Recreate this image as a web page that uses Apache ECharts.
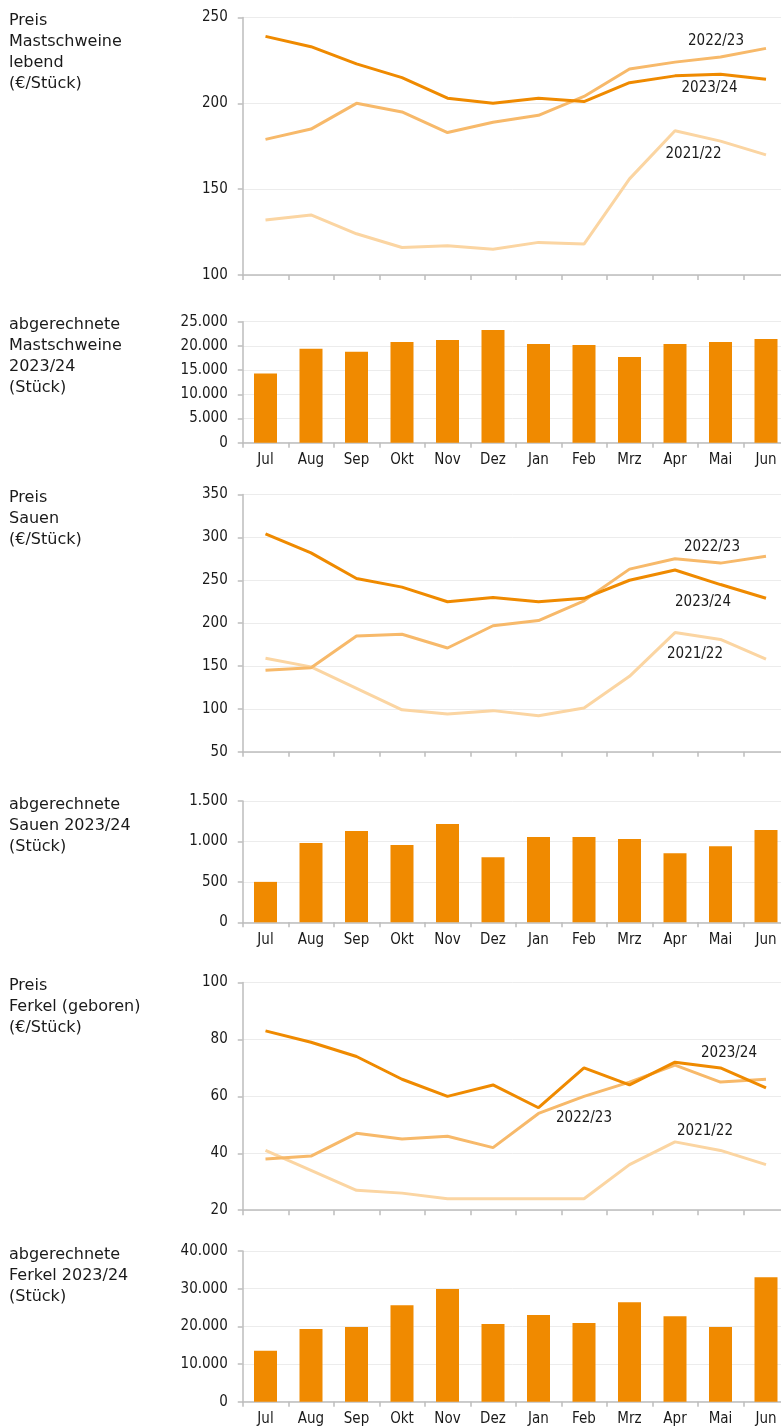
<!DOCTYPE html>
<html>
<head>
<meta charset="utf-8">
<script src="https://cdn.jsdelivr.net/npm/echarts@6/dist/echarts.min.js"></script>
<style>
  html, body { margin: 0; padding: 0; background: #ffffff; }
  #chart { width: 781px; height: 1428px; }
</style>
</head>
<body>
<div id="chart"></div>
<script>
// Months of the marketing year (July to June)
const months = ['Jul', 'Aug', 'Sep', 'Okt', 'Nov', 'Dez', 'Jan', 'Feb', 'Mrz', 'Apr', 'Mai', 'Jun'];
const seasons = ['2021/22', '2022/23', '2023/24'];

// Mastschweine lebend, €/Stück
const mastPrice2122 = [132, 135, 124, 116, 117, 115, 119, 118, 156, 184, 178, 170];
const mastPrice2223 = [179, 185, 200, 195, 183, 189, 193, 204, 220, 224, 227, 232];
const mastPrice2324 = [239, 233, 223, 215, 203, 200, 203, 201, 212, 216, 217, 214];
// abgerechnete Mastschweine 2023/24, Stück
const mastCount2324 = [14300, 19400, 18800, 20800, 21200, 23300, 20400, 20200, 17700, 20400, 20800, 21400];

// Sauen, €/Stück
const sauPrice2122 = [159, 149, 124, 99, 94, 98, 92, 101, 138, 189, 181, 158];
const sauPrice2223 = [145, 148, 185, 187, 171, 197, 203, 226, 263, 275, 270, 278];
const sauPrice2324 = [304, 282, 252, 242, 225, 230, 225, 229, 250, 262, 245, 229];
// abgerechnete Sauen 2023/24, Stück
const sauCount2324 = [500, 980, 1130, 955, 1215, 805, 1055, 1055, 1030, 855, 940, 1140];

// Ferkel (geboren), €/Stück
const ferkelPrice2122 = [41, 34, 27, 26, 24, 24, 24, 24, 36, 44, 41, 36];
const ferkelPrice2223 = [38, 39, 47, 45, 46, 42, 54, 60, 65, 71, 65, 66];
const ferkelPrice2324 = [83, 79, 74, 66, 60, 64, 56, 70, 64, 72, 70, 63];
// abgerechnete Ferkel 2023/24, Stück
const ferkelCount2324 = [13500, 19300, 19800, 25600, 29900, 20600, 23000, 20900, 26400, 22700, 19800, 33000];

// Value axis ranges [min, max, interval]
const mastPriceTicks = [100, 250, 50];
const mastCountTicks = [0, 25000, 5000];
const sauPriceTicks = [50, 350, 50];
const sauCountTicks = [0, 1500, 500];
const ferkelPriceTicks = [20, 100, 20];
const ferkelCountTicks = [0, 40000, 10000];

// Panel headings
const headings = [
  'Preis\nMastschweine\nlebend\n(€/Stück)',
  'abgerechnete\nMastschweine\n2023/24\n(Stück)',
  'Preis\nSauen\n(€/Stück)',
  'abgerechnete\nSauen 2023/24\n(Stück)',
  'Preis\nFerkel (geboren)\n(€/Stück)',
  'abgerechnete\nFerkel 2023/24\n(Stück)'
];

const seasonColors = ['#FBD5A2', '#F7B96A', '#EF8A00'];
const barColor = '#F08A00';
const axisGray = '#BDBDBD';
const gridGray = '#ECECEC';
const textColor = '#1a1a1a';
const tickFont = "'DejaVu Sans Condensed', 'DejaVu Sans', sans-serif";
const headFont = "'DejaVu Sans', Verdana, sans-serif";

// Plot frames for the six stacked panels
const frames = [
  { top: 17.5, height: 257.5 },
  { top: 321.7, height: 121 },
  { top: 494.5, height: 257.3 },
  { top: 801, height: 121.3 },
  { top: 982.5, height: 227.7 },
  { top: 1251, height: 150.7 }
];
const plotLeft = 242.75;
const plotWidth = 546;

function deNumber(v) {
  return String(v).replace(/\B(?=(\d{3})+(?!\d))/g, '.');
}

const grids = frames.map(f => ({
  left: plotLeft, top: f.top, width: plotWidth, height: f.height,
  containLabel: false, outerBoundsMode: 'none'
}));

const xAxes = frames.map((f, i) => ({
  type: 'category',
  gridIndex: i,
  data: months,
  boundaryGap: true,
  axisLine: { show: true, lineStyle: { color: axisGray, width: 1.5 } },
  axisTick: { show: true, length: 5, lineStyle: { color: axisGray, width: 1.5 } },
  axisLabel: {
    show: i % 2 === 1,
    margin: 10,
    color: textColor,
    fontFamily: tickFont,
    fontSize: 15
  },
  splitLine: { show: false }
}));

const tickSets = [mastPriceTicks, mastCountTicks, sauPriceTicks, sauCountTicks, ferkelPriceTicks, ferkelCountTicks];
const yAxes = tickSets.map((t, i) => ({
  type: 'value',
  gridIndex: i,
  min: t[0], max: t[1], interval: t[2],
  axisLine: { show: true, lineStyle: { color: axisGray, width: 1.5 } },
  axisTick: { show: true, length: 5, lineStyle: { color: axisGray, width: 1.5 } },
  axisLabel: {
    margin: 15,
    color: textColor,
    fontFamily: tickFont,
    fontSize: 15,
    formatter: v => deNumber(v)
  },
  splitLine: { show: true, lineStyle: { color: gridGray, width: 1 } }
}));

function priceSeries(idx, arrays) {
  return arrays.map((arr, k) => ({
    type: 'line',
    name: seasons[k],
    xAxisIndex: idx,
    yAxisIndex: idx,
    data: arr,
    symbol: 'none',
    smooth: false,
    lineStyle: { color: seasonColors[k], width: 3 },
    z: 2 + k,
    silent: true,
    animation: false
  }));
}

function barSeries(idx, arr) {
  return {
    type: 'bar',
    name: '2023/24',
    xAxisIndex: idx,
    yAxisIndex: idx,
    data: arr,
    barWidth: 23,
    itemStyle: { color: barColor },
    silent: true,
    animation: false
  };
}

const series = [
  ...priceSeries(0, [mastPrice2122, mastPrice2223, mastPrice2324]),
  barSeries(1, mastCount2324),
  ...priceSeries(2, [sauPrice2122, sauPrice2223, sauPrice2324]),
  barSeries(3, sauCount2324),
  ...priceSeries(4, [ferkelPrice2122, ferkelPrice2223, ferkelPrice2324]),
  barSeries(5, ferkelCount2324)
];

// Headings to the left of each panel
const headingGraphics = headings.map((h, i) => ({
  type: 'text',
  left: 9,
  top: frames[i].top - 7,
  silent: true,
  style: {
    text: h,
    font: '16px ' + headFont,
    fill: textColor,
    lineHeight: 21
  }
}));

// Season labels placed beside their lines
const seasonLabels = [
  ['2022/23', 716, 41], ['2023/24', 709.5, 88], ['2021/22', 693.5, 154],
  ['2022/23', 712, 547], ['2023/24', 703, 602], ['2021/22', 695, 654],
  ['2023/24', 729, 1053], ['2022/23', 584, 1118], ['2021/22', 705, 1131]
].map(([t, x, y]) => ({
  type: 'text',
  x: x, y: y,
  silent: true,
  style: {
    text: t,
    font: '15px ' + tickFont,
    fill: textColor,
    align: 'center',
    verticalAlign: 'middle'
  }
}));

const chart = echarts.init(document.getElementById('chart'), null, { renderer: 'canvas' });
chart.setOption({
  animation: false,
  backgroundColor: '#ffffff',
  grid: grids,
  xAxis: xAxes,
  yAxis: yAxes,
  series: series,
  graphic: [...headingGraphics, ...seasonLabels]
});
</script>
</body>
</html>
